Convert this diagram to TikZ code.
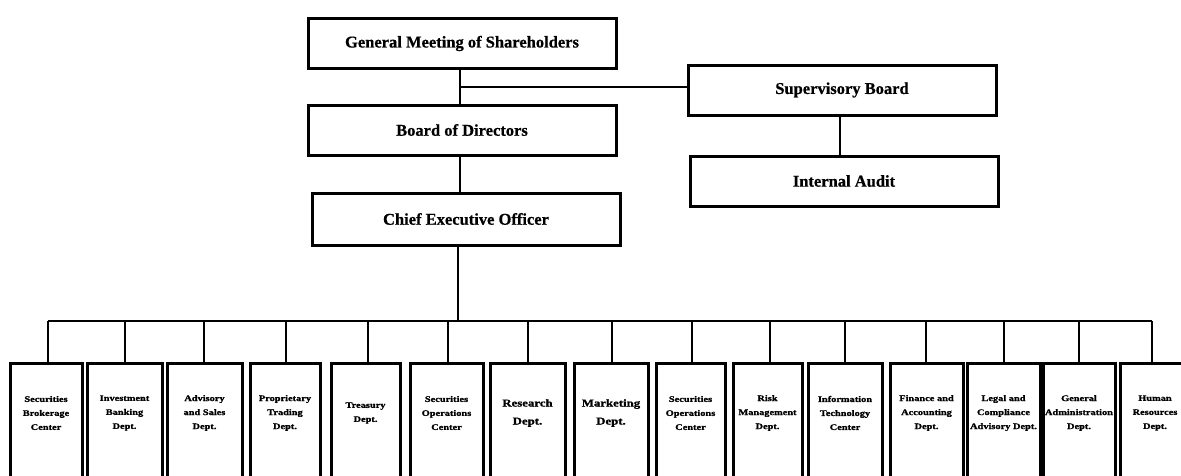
\documentclass[tikz,border=0pt]{standalone}
\usepackage{fontspec}
\setmainfont{Liberation Serif}
\newfontfamily\topfont{Liberation Serif}[FakeBold=0.6]
\newfontfamily\deptfont{Liberation Serif}[FakeStretch=1.22, FakeBold=1.2]
\begin{document}
\begin{tikzpicture}[x=1pt,y=-1pt,
  topbox/.style={draw, line width=3pt, minimum width=308pt, minimum height=50pt, inner sep=0pt,
    font=\topfont\fontsize{16.5}{18}\selectfont\bfseries},
  deptbox/.style={draw, line width=3pt, inner sep=0pt},
  depttext/.style={align=center, inner sep=0pt, font=\deptfont\fontsize{8.5}{14}\selectfont\bfseries},
  bigtext/.style={align=center, inner sep=0pt, font=\deptfont\fontsize{10.5}{18}\selectfont\bfseries},
  conn/.style={line width=2pt},
  bus/.style={line width=2.6pt}]
\useasboundingbox (0,0) rectangle (1181,475);
\clip (0,0) rectangle (1181,475);
\fill[white] (0,0) rectangle (1181,475);

\node[topbox] (gms) at (462,43.5) {General Meeting of Shareholders};
\node[topbox] (bod) at (462,130) {Board of Directors};
\node[topbox, minimum height=52pt] (ceo) at (466,219) {Chief Executive Officer};
\node[topbox] (sup) at (842,90) {Supervisory Board};
\node[topbox] (ia) at (844,181) {Internal Audit};

\coordinate (j1) at (460,87);
\draw[conn] (gms.south -| j1) -- (bod.north -| j1);
\draw[conn] (j1) -- (j1 -| sup.west);
\draw[conn] (bod.south -| j1) -- (ceo.north -| j1);
\draw[conn] (sup.south -| 840,0) -- (ia.north -| 840,0);

\coordinate (cbus) at (458,321);
\coordinate (busL) at (48,321);
\coordinate (busR) at (1152,321);
\draw[conn] (ceo.south -| cbus) -- (cbus);
\draw[bus] (busL) -- (busR);

\foreach \l/\r/\s/\t/\st [count=\i] in {
  10/82/48/{Securities\\Brokerage\\Center}/depttext,
  87/162/125/{Investment\\Banking\\Dept.}/depttext,
  167/242/204/{Advisory\\and Sales\\Dept.}/depttext,
  250/320/286/{Proprietary\\Trading\\Dept.}/depttext,
  331/400/368/{Treasury\\Dept.}/depttext,
  410/483/448/{Securities\\Operations\\Center}/depttext,
  490/565/528/{Research\\Dept.}/bigtext,
  574/648/612/{Marketing\\Dept.}/bigtext,
  656/725/692/{Securities\\Operations\\Center}/depttext,
  733/802/770/{Risk\\Management\\Dept.}/depttext,
  808/882/845/{Information\\Technology\\Center}/depttext,
  890/963/926/{Finance and\\Accounting\\Dept.}/depttext,
  967/1040/1004/{Legal and\\Compliance\\Advisory Dept.}/depttext,
  1043/1115/1079/{General\\Administration\\Dept.}/depttext,
  1120/1190/1152/{Human\\Resources\\Dept.}/depttext}{
  \node[deptbox, anchor=north, minimum width=\r pt-\l pt, minimum height=114pt]
    (d\i) at ({(\l+\r)/2},362) {};
  \node[\st] (t\i) at ({(\l+\r)/2},413) {\t};
  \coordinate (s\i) at (\s,321);
  \draw[conn] (s\i) -- (s\i |- d\i.north);
}
\end{tikzpicture}
\end{document}
